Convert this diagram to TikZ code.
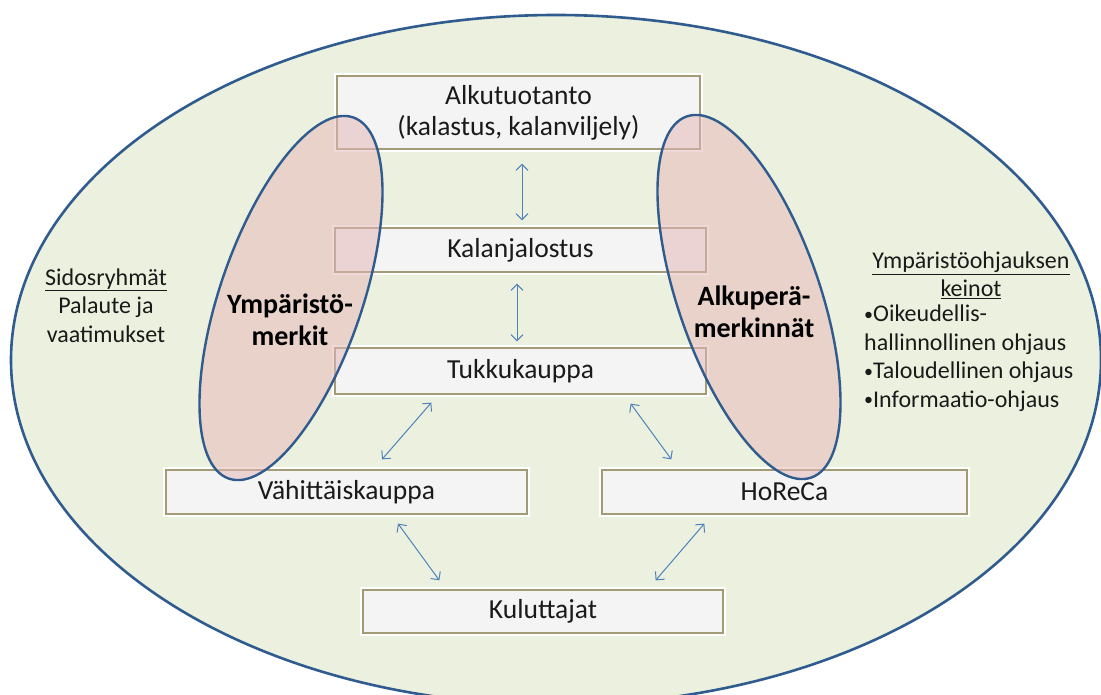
\documentclass[tikz,border=0pt]{standalone}
\usepackage{fontspec}
\setmainfont{Carlito}
\usetikzlibrary{arrows.meta,shadows}
\definecolor{bgfill}{HTML}{EBF1DE}
\definecolor{ellline}{HTML}{2F5B8E}
\definecolor{pinkfill}{HTML}{E6B9B8}
\definecolor{boxline}{HTML}{A39B76}
\definecolor{boxfill}{HTML}{F4F4F4}
\definecolor{arrowc}{HTML}{4F81BD}
\definecolor{txt}{HTML}{1A1A1A}
\newcommand{\smbul}{\raisebox{1.5pt}{\fontsize{18}{18}\selectfont•}}
\tikzset{
  stagebox/.style={rectangle, draw=boxline, line width=1.3pt, fill=boxfill,
    drop shadow={shadow xshift=2.5pt, shadow yshift=-3pt, opacity=.3, fill=black!70},
    preaction={draw=white, line width=6pt},
    minimum height=45, inner sep=0pt, text=txt,
    font=\fontsize{27.5}{31}\selectfont, align=center},
  flow/.style={draw=arrowc, line width=1pt,
    {Straight Barb[length=6pt,width=12pt]}-{Straight Barb[length=6pt,width=12pt]}},
  bigell/.style={draw=ellline, line width=2.6pt, fill=bgfill},
  smallell/.style={draw=ellline, line width=2.4pt, fill=pinkfill, fill opacity=.55},
  elllabel/.style={font=\fontsize{28}{32}\selectfont\bfseries, text=black, align=center, inner sep=0pt, anchor=base},
  sidetext/.style={font=\fontsize{24}{28.5}\selectfont, text=txt, inner sep=0pt}
}
\begin{document}
\begin{tikzpicture}[x=1pt,y=1pt]
\useasboundingbox (0,0) rectangle (1101,-695);
\fill[white] (0,0) rectangle (1101,-695);
\begin{scope}
\clip (0,0) rectangle (1101,-695);
\path[bigell] (556,-360) ellipse [x radius=545, y radius=345];
\end{scope}

% stage boxes
\node[stagebox, minimum width=363, minimum height=73] (alku) at (518.5,-112.5) {Alkutuotanto\\(kalastus, kalanviljely)};
\node[stagebox, minimum width=371, minimum height=44] (kalan) at (520.5,-250) {Kalanjalostus};
\node[stagebox, minimum width=371, minimum height=46] (tukku) at (520.5,-371) {Tukkukauppa};
\node[stagebox, minimum width=361, minimum height=44] (vah) at (346.5,-492) {Vähittäiskauppa};
\node[stagebox, minimum width=365, minimum height=44] (horeca) at (784.5,-492) {HoReCa};
\node[stagebox, minimum width=360, minimum height=43] (kulut) at (543,-611.5) {Kuluttajat};

% connectors
\draw[flow] ([xshift=3.5pt,yshift=-14pt]alku.south) -- ([xshift=1.5pt,yshift=7pt]kalan.north);
\draw[flow] ([xshift=-3.5pt,yshift=-11pt]kalan.south) -- ([xshift=-3.5pt,yshift=6pt]tukku.north);
\draw[flow] ([xshift=97pt,yshift=-8pt]tukku.south west) -- ([xshift=35.5pt,yshift=10pt]vah.north);
\draw[flow] ([xshift=-76pt,yshift=-9pt]tukku.south east) -- ([xshift=70pt,yshift=10pt]horeca.north west);
\draw[flow] ([xshift=51.5pt,yshift=-9pt]vah.south) -- ([xshift=77pt,yshift=9pt]kulut.north west);
\draw[flow] ([xshift=103pt,yshift=-9pt]horeca.south west) -- ([xshift=-68pt,yshift=9pt]kulut.north east);

% overlay ellipses
\path[smallell, shift={(291,-298)}, rotate=71] (0,0) ellipse [x radius=191, y radius=71];
\path[smallell, shift={(749,-297)}, rotate=109] (0,0) ellipse [x radius=191, y radius=71];

\node[elllabel] (ymerk) at (290,-345) {Ympäristö-\\merkit};
\node[elllabel] (alkmerk) at (754,-337) {Alkuperä-\\merkinnät};

% side texts (base anchor = baseline of the last line)
\node[sidetext, align=center, anchor=base] (sidos) at (106,-342) {\underline{Sidosryhmät}\\Palaute ja\\vaatimukset};
\node[sidetext, align=center, anchor=base] (keinot) at (971,-297) {\underline{Ympäristöohjauksen}\\\underline{keinot}};
\node[sidetext, align=left, anchor=base west] (bullets) at (864,-407) {\smbul Oikeudellis-\\hallinnollinen ohjaus\\\smbul Taloudellinen ohjaus\\\smbul Informaatio-ohjaus};
\end{tikzpicture}
\end{document}
